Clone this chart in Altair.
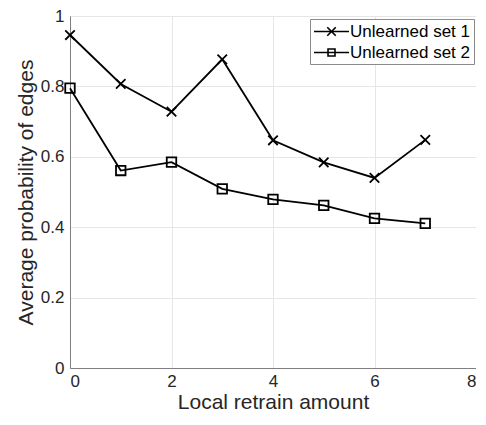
import altair as alt
import pandas as pd

steps = [0, 1, 2, 3, 4, 5, 6, 7]
set1 = [0.946, 0.807, 0.728, 0.877, 0.647, 0.584, 0.540, 0.648]
set2 = [0.795, 0.561, 0.585, 0.509, 0.479, 0.462, 0.425, 0.411]
series_names = ["Unlearned set 1", "Unlearned set 2"]
x_ticks = [0, 2, 4, 6, 8]
y_ticks = [0, 0.2, 0.4, 0.6, 0.8, 1]

rows = []
for name, vals in zip(series_names, [set1, set2]):
    for s, v in zip(steps, vals):
        rows.append({"step": s, "value": v, "series": name})
df = pd.DataFrame(rows)

FONT = "Liberation Sans"
TXT = "#262626"

x_enc = alt.X("step:Q", scale=alt.Scale(domain=[0, 8], nice=False),
              axis=alt.Axis(values=x_ticks, title="Local retrain amount", format="~g"))
y_enc = alt.Y("value:Q", scale=alt.Scale(domain=[0, 1], nice=False),
              axis=alt.Axis(values=y_ticks, title="Average probability of edges", format="~g"))

X_PATH = "M-1,-1L1,1M-1,1L1,-1"
LEG1 = "M-1,0H3.12M0.56,-0.5L1.56,0.5M0.56,0.5L1.56,-0.5"
LEG2 = "M-1,0H3.12M0.65,-0.41H1.47V0.41H0.65Z"

lines = alt.Chart(df).mark_line(color="black", strokeWidth=1.8).encode(
    x=x_enc, y=y_enc, detail="series:N")

points = alt.Chart(df).mark_point(filled=False, color="black", strokeWidth=1.8, size=90, opacity=1).encode(
    x=x_enc, y=y_enc,
    shape=alt.Shape("series:N", scale=alt.Scale(domain=series_names, range=[X_PATH, "square"]), legend=None))

legend_layer = alt.Chart(df).mark_point(filled=False, color="black", opacity=0).encode(
    x=x_enc, y=y_enc,
    shape=alt.Shape("series:N", scale=alt.Scale(domain=series_names, range=[LEG1, LEG2]),
                    legend=alt.Legend(title=None, orient="none", legendX=240, legendY=3,
                                      strokeColor="#8a8a8a", fillColor="white",
                                      padding=3, symbolSize=289, symbolStrokeWidth=1.6,
                                      symbolStrokeColor="black", symbolFillColor="transparent",
                                      symbolOpacity=1, labelFontSize=17, labelFont=FONT,
                                      labelColor="black", labelOffset=18, rowPadding=3)))

chart = alt.layer(lines, points, legend_layer).resolve_scale(shape="independent").properties(
    width=406, height=352,
    autosize=alt.AutoSizeParams(type="none"),
    padding={"left": 62, "top": 8, "right": 0, "bottom": 44},
).configure_view(stroke="#7f7f7f", strokeWidth=1).configure_axis(
    domainColor="#7f7f7f", domainWidth=1, ticks=False,
    gridColor="#e6e6e6", gridWidth=1,
    labelFont=FONT, labelFontSize=17, labelColor=TXT,
    titleFont=FONT, titleFontSize=21, titleFontWeight="normal", titleColor=TXT,
).configure_axisX(labelPadding=5, titlePadding=2).configure_axisY(labelPadding=6, titlePadding=4)

chart.save("out.html", embed_options={"renderer": "svg", "actions": False})
